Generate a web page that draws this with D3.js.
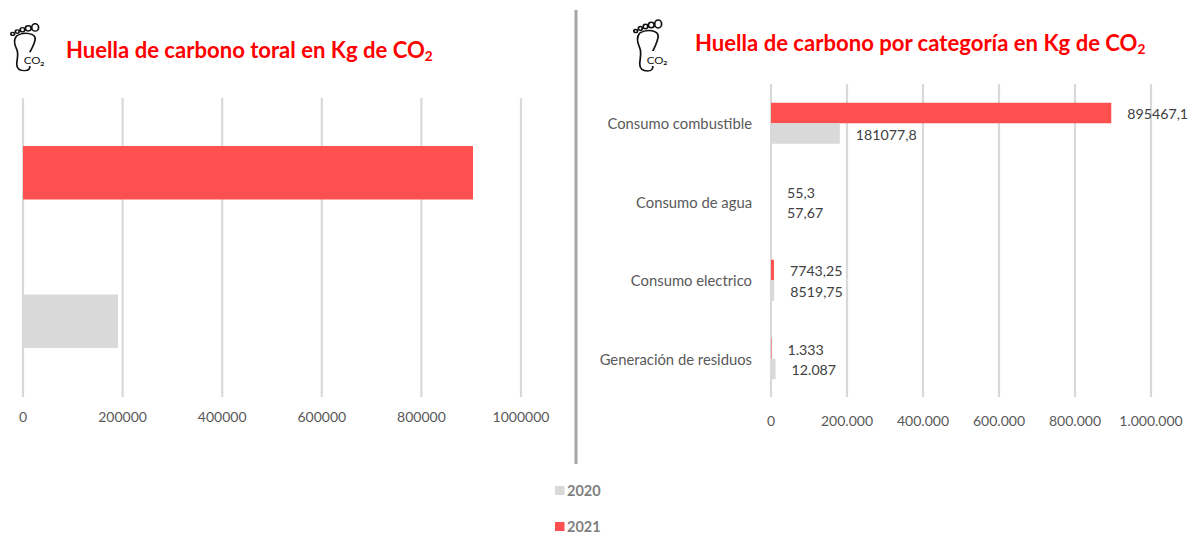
<!DOCTYPE html>
<html><head><meta charset="utf-8">
<script src="https://cdn.jsdelivr.net/npm/d3@7/dist/d3.min.js"></script>
<style>html,body{margin:0;background:#fff}svg{display:block}text{font-family:Lato,"Open Sans",sans-serif}</style>
</head><body><svg id="c" width="1189" height="534"></svg>
<script>
const years = ["2020","2021"];
const totals2020 = [190700];
const totals2021 = [903600];
const totalTicks = [0,200000,400000,600000,800000,1000000];
const categories = ["Consumo combustible","Consumo de agua","Consumo electrico","Generación de residuos"];
const values2021 = [895467.1,55.3,7743.25,1333];
const values2020 = [181077.8,57.67,8519.75,12087];
const labels2021 = ["895467,1","55,3","7743,25","1.333"];
const labels2020 = ["181077,8","57,67","8519,75","12.087"];
const categoryTicks = [0,200000,400000,600000,800000,1000000];
const colors = {"2020":"#d9d9d9","2021":"#ff5050"};

const svg = d3.select("#c");
const esFmt = d3.formatLocale({decimal:",",thousands:".",grouping:[3],currency:["",""]}).format(",d");

function grid(g,x,ticks,y0,y1,fmt,labelY){
  g.selectAll("line.g").data(ticks).join("line").attr("class","g")
    .attr("x1",d=>x(d)).attr("x2",d=>x(d)).attr("y1",y0).attr("y2",y1)
    .attr("stroke","#d9d9d9").attr("stroke-width",2.2);
  g.selectAll("text.t").data(ticks).join("text").attr("class","t")
    .attr("x",d=>x(d)).attr("y",labelY).attr("text-anchor","middle")
    .attr("font-size",14).attr("fill","#595959").text(fmt);
}
function foot(x,y,sx,sy){
  const g = svg.append("g").attr("transform",`translate(${x},${y}) scale(${sx},${sy})`)
    .attr("fill","none").attr("stroke","#111").attr("stroke-width",1.5);
  g.append("path").attr("d","M5 16 C2 20 3 26 5 31 C7 36 5 42 5 47 C5 52 8 54 12 54 C16 54 17 51 16 47 C15 43 14 40 16 35 C18 30 21 24 21 19 C21 14 12 11 5 16 Z");
  [[-0.5,14,1.6,1.6],[3.5,11.5,1.7,1.9],[8,9.5,2,2.3],[13,8,2.5,2.8],[19,7,3,4]].forEach(e=>
    g.append("ellipse").attr("cx",e[0]+2).attr("cy",e[1]).attr("rx",e[2]).attr("ry",e[3]));
  g.append("rect").attr("x",11).attr("y",34).attr("width",17).attr("height",15).attr("fill","#fff").attr("stroke","none");
  const t = g.append("text").attr("x",11).attr("y",47).attr("font-size",10).attr("fill","#111").attr("stroke","none");
  t.append("tspan").text("CO");
  t.append("tspan").attr("font-size",6).attr("font-weight",700).attr("dy",1.5).text("2");
}
function title(x,y,main,size){
  const t = svg.append("text").attr("x",x).attr("y",y).attr("font-size",size).attr("font-weight",700).attr("fill","#ff0000");
  t.append("tspan").text(main);
  t.append("tspan").attr("font-size",size*0.62).attr("dy",3).text("2");
}

// Left chart
const xL = d3.scaleLinear().domain([0,1000000]).range([23,521]);
const yL = d3.scaleBand().domain(["2021","2020"]).range([97.5,396.5]).paddingInner(0.64).paddingOuter(0.327);
const gL = svg.append("g");
grid(gL,xL,totalTicks,98,397,d=>d3.format("d")(d),422);
const rowsL = [{y:"2021",v:totals2021[0]},{y:"2020",v:totals2020[0]}];
gL.selectAll("rect").data(rowsL).join("rect")
  .attr("x",xL(0)).attr("y",d=>yL(d.y)).attr("width",d=>xL(d.v)-xL(0)).attr("height",yL.bandwidth())
  .attr("fill",d=>colors[d.y]);

// Right chart
const xR = d3.scaleLinear().domain([0,1000000]).range([771,1151]);
const yR = d3.scaleBand().domain(categories).range([84,398]);
const barH = 20.5;
const gR = svg.append("g");
grid(gR,xR,categoryTicks,84,397,esFmt,426);
gR.selectAll("text.c").data(categories).join("text").attr("class","c")
  .attr("x",752).attr("y",d=>yR(d)+yR.bandwidth()/2+6).attr("text-anchor","end")
  .attr("font-size",14.8).attr("fill","#595959").text(d=>d);
[["2021",values2021,labels2021,-1],["2020",values2020,labels2020,0]].forEach(([yr,vals,labs,k])=>{
  const rows = categories.map((c,i)=>({c,v:vals[i],l:labs[i]}));
  const top = d=>yR(d.c)+yR.bandwidth()/2+k*barH;
  gR.selectAll("rect.b"+yr).data(rows).join("rect").attr("class","b"+yr)
    .attr("x",xR(0)).attr("y",top).attr("width",d=>Math.max(0,xR(d.v)-xR(0))).attr("height",barH)
    .attr("fill",colors[yr]);
  gR.selectAll("text.l"+yr).data(rows).join("text").attr("class","l"+yr)
    .attr("x",d=>xR(d.v)+16).attr("y",d=>top(d)+barH/2+6)
    .attr("font-size",14.2).attr("fill","#404040").text(d=>d.l);
});

// Divider, headings
svg.append("line").attr("x1",576).attr("x2",576).attr("y1",10).attr("y2",464).attr("stroke","#a6a6a6").attr("stroke-width",3);
foot(11,21,1.15,0.92);
foot(634,17,1.15,1);
title(66,58,"Huella de carbono toral en Kg de CO",22.1);
title(695,51,"Huella de carbono por categoría en Kg de CO",22.1);

// Legend
const lg = svg.append("g");
lg.selectAll("rect").data(years).join("rect")
  .attr("x",555).attr("y",(d,i)=>486+i*36).attr("width",9.5).attr("height",9).attr("fill",d=>colors[d]);
lg.selectAll("text").data(years).join("text")
  .attr("x",567).attr("y",(d,i)=>496+i*36).attr("font-size",14.5).attr("font-weight",700).attr("fill","#7f7f7f").text(d=>d);
</script></body></html>
